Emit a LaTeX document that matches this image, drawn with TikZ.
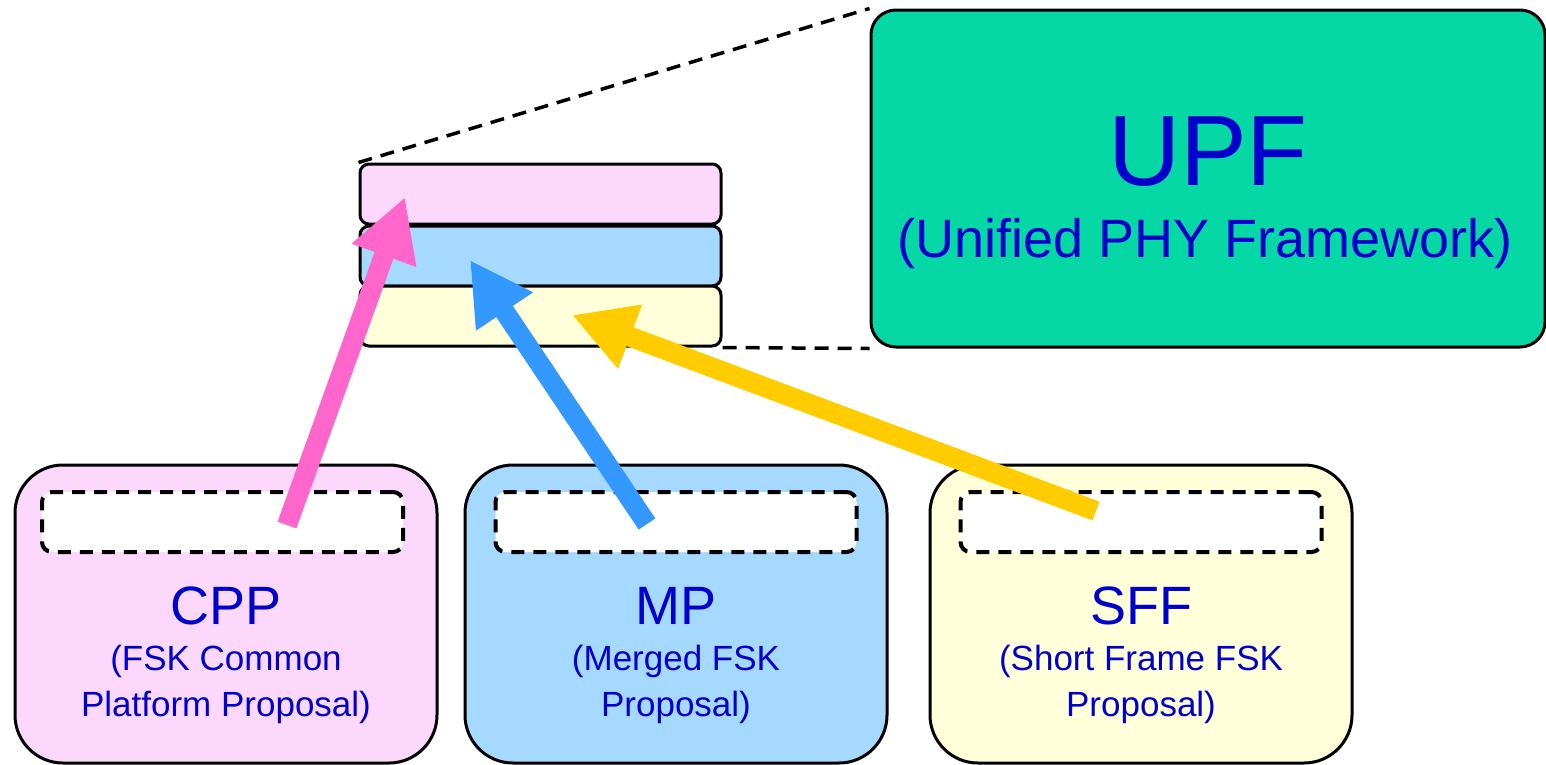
\documentclass[tikz,border=0pt]{standalone}
\usepackage{fontspec}
\setmainfont{Liberation Sans}
\usetikzlibrary{arrows.meta}
\definecolor{upfgreen}{RGB}{5,216,165}
\definecolor{pinkfill}{RGB}{253,216,253}
\definecolor{bluefill}{RGB}{166,217,255}
\definecolor{yellowfill}{RGB}{255,255,217}
\definecolor{pinkarrow}{RGB}{255,102,204}
\definecolor{bluearrow}{RGB}{51,153,255}
\definecolor{yellowarrow}{RGB}{255,204,0}
\definecolor{txtblue}{RGB}{0,0,204}
\tikzset{
  layerbar/.style={draw=black, line width=3pt, rounded corners=9pt, minimum width=361pt, minimum height=60pt, inner sep=0pt},
  bigbox/.style={draw=black, line width=3pt, rounded corners=48pt, minimum width=422pt, minimum height=298pt, inner sep=0pt},
  slotbox/.style={draw=black, fill=white, line width=4pt, dash pattern=on 13pt off 9pt, rounded corners=10pt, minimum width=361pt, minimum height=60pt, inner sep=0pt},
  guide/.style={draw=black, line width=3.5pt, dash pattern=on 14pt off 9pt},
  blockarrow/.style={line width=20pt, -{Triangle[length=62pt,width=64pt]}},
  title/.style={text=txtblue, font=\fontsize{54}{54}\selectfont, anchor=base, inner sep=0pt},
  sub/.style={text=txtblue, font=\fontsize{35}{35}\selectfont, anchor=base, inner sep=0pt},
}
\begin{document}
\begin{tikzpicture}[x=1pt,y=-1pt]
\useasboundingbox (0,0) rectangle (1546,764);
% UPF box
\node[draw=black, line width=3pt, fill=upfgreen, rounded corners=25pt, minimum width=674pt, minimum height=337pt, inner sep=0pt] (upf) at (1208,178.5) {};
\node[text=txtblue, font=\fontsize{100}{100}\selectfont, anchor=base, inner sep=0pt] (upft) at (1208,185) {UPF};
\node[text=txtblue, font=\fontsize{54}{54}\selectfont, anchor=base, inner sep=0pt] (upfs) at (1205,257) {(Unified PHY Framework)};
% stack
\node[layerbar, fill=pinkfill] (layerA) at (540.5,194) {};
\node[layerbar, fill=bluefill] (layerB) at (540.5,256) {};
\node[layerbar, fill=yellowfill] (layerC) at (540.5,316) {};
% guide lines
\draw[guide] (layerA.north west) -- (upf.north west);
\draw[guide] (layerC.south east) -- (upf.south west);
% bottom boxes
\node[bigbox, fill=pinkfill] (cpp) at (226,614) {};
\node[bigbox, fill=bluefill] (mp) at (676,614) {};
\node[bigbox, fill=yellowfill] (sff) at (1141,614) {};
\node[slotbox] (cppslot) at (222.5,522) {};
\node[slotbox] (mpslot) at (676,522) {};
\node[slotbox] (sffslot) at (1141,522) {};
% texts
\node[title] (cppt) at (226,624) {CPP};
\node[sub] (cpps1) at (226,670) {(FSK Common};
\node[sub] (cpps2) at (226,716) {Platform Proposal)};
\node[title] (mpt) at (676,624) {MP};
\node[sub] (mps1) at (676,670) {(Merged FSK};
\node[sub] (mps2) at (676,716) {Proposal)};
\node[title] (sfft) at (1141,624) {SFF};
\node[sub] (sffs1) at (1141,670) {(Short Frame FSK};
\node[sub] (sffs2) at (1141,716) {Proposal)};
% arrow ends
\coordinate (pinktail) at (287,525);
\coordinate (pinktip) at (405,197);
\coordinate (bluetail) at (647,524);
\coordinate (bluetip) at (470,260);
\coordinate (yellowtail) at (1096,511);
\coordinate (yellowtip) at (572,315);
\draw[blockarrow, draw=pinkarrow, fill=pinkarrow] (pinktail) -- (pinktip);
\draw[blockarrow, draw=bluearrow, fill=bluearrow] (bluetail) -- (bluetip);
\draw[blockarrow, draw=yellowarrow, fill=yellowarrow] (yellowtail) -- (yellowtip);
\end{tikzpicture}
\end{document}
